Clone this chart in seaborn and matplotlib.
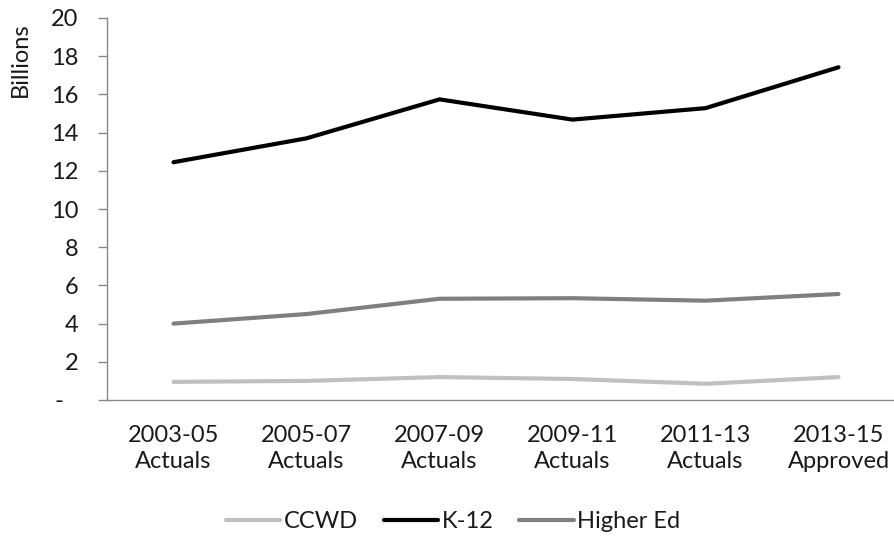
import matplotlib
matplotlib.use("Agg")
import matplotlib.pyplot as plt
from matplotlib.transforms import ScaledTranslation
from matplotlib.lines import Line2D
import seaborn as sns
import pandas as pd

# Biennial budget, billions of dollars
periods = ["2003-05\nActuals", "2005-07\nActuals", "2007-09\nActuals",
           "2009-11\nActuals", "2011-13\nActuals", "2013-15\nApproved"]
ccwd = [0.95, 1.0, 1.2, 1.1, 0.85, 1.2]
k12 = [12.45, 13.7, 15.74, 14.68, 15.28, 17.42]
higher_ed = [4.0, 4.5, 5.3, 5.33, 5.2, 5.55]
series_names = ["CCWD", "K-12", "Higher Ed"]
series_colors = ["#c0c0c0", "#000000", "#7f7f7f"]
y_ticks = [0, 2, 4, 6, 8, 10, 12, 14, 16, 18, 20]
y_tick_labels = ["-", "2", "4", "6", "8", "10", "12", "14", "16", "18", "20"]

rows = []
for name, vals in zip(series_names, [ccwd, k12, higher_ed]):
    for i, v in enumerate(vals):
        rows.append({"pos": i, "period": periods[i], "series": name, "value": v})
df = pd.DataFrame(rows)

sns.set_theme(style="white")
plt.rcParams["font.family"] = ["Lato", "DejaVu Sans"]

text_color = "#1a1a1a"
fs = 17

fig = plt.figure(figsize=(8.94, 5.42), dpi=100)
W, H = 894, 542
left, right, top, bottom = 107, 905, 18, 400
ax = fig.add_axes([left / W, (H - bottom) / H, (right - left) / W, (bottom - top) / H])

sns.lineplot(data=df, x="pos", y="value", hue="series", hue_order=series_names,
             palette=series_colors, linewidth=3.0, ax=ax, legend=False,
             solid_capstyle="round")

ax.set_xlim(-0.5, 5.5)
ax.set_ylim(0, 20)
ax.set_xticks(range(len(periods)))
ax.set_xticklabels(periods, fontsize=fs, color=text_color, linespacing=1.3)
ax.set_yticks(y_ticks)
ax.set_yticklabels(y_tick_labels, fontsize=fs, color=text_color)
ax.set_xlabel("")
ax.set_ylabel("")

axis_color = "#878787"
for side in ["top", "right"]:
    ax.spines[side].set_visible(False)
for side in ["left", "bottom"]:
    ax.spines[side].set_color(axis_color)
    ax.spines[side].set_linewidth(1.0)
ax.tick_params(axis="y", direction="out", length=6.5, width=1.0, color=axis_color,
               pad=14, left=True)
ax.tick_params(axis="x", length=0, pad=18)

# zero label sits farther left, as an accounting-style dash
zero_label = ax.get_yticklabels()[0]
zero_label.set_transform(zero_label.get_transform()
                         + ScaledTranslation(-0.15, 0, fig.dpi_scale_trans))

fig.text(20 / W, (H - 60) / H, "Billions", rotation=90, fontsize=fs,
         color=text_color, ha="center", va="center")

handles = [Line2D([0], [0], color=c, lw=3.0, solid_capstyle="round") for c in series_colors]
fig.legend(handles, series_names, loc="center", bbox_to_anchor=(453 / W, (H - 522) / H),
           ncol=3, frameon=False, fontsize=fs, handlelength=2.3, handletextpad=0.15,
           columnspacing=1.1, labelcolor=text_color)

fig.savefig("out.png", dpi=100)
